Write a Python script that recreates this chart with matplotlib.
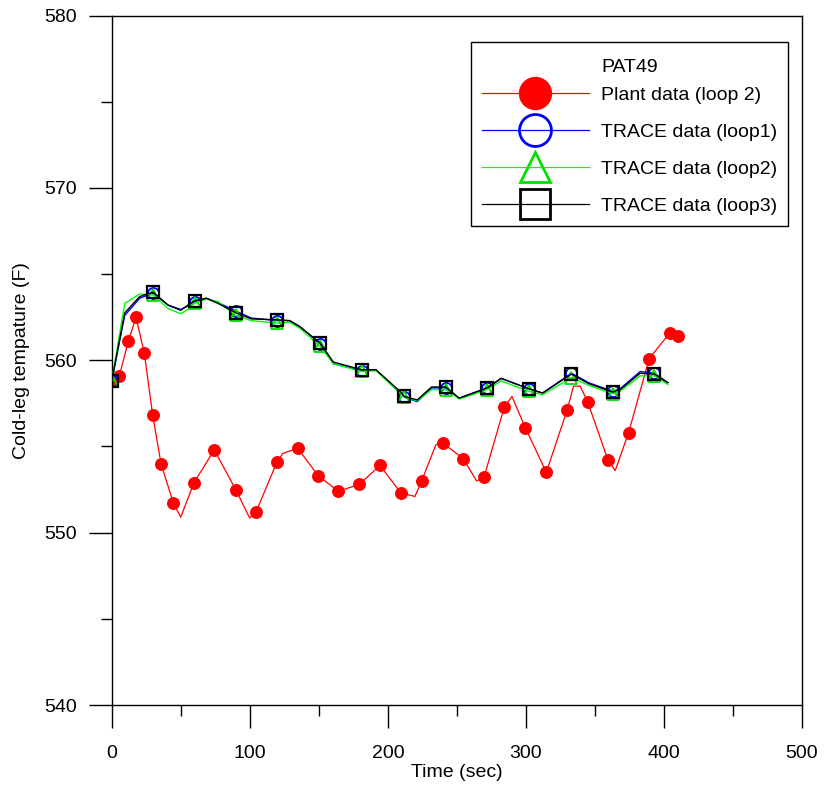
import matplotlib
matplotlib.use('Agg')
import matplotlib.pyplot as plt
from matplotlib.lines import Line2D
from matplotlib.ticker import MultipleLocator

plt.rcParams['font.family'] = ['Liberation Sans', 'DejaVu Sans']

# ---------------- data ----------------
# Plant data (loop 2): line vertices and which of them carry a marker
plant_t = [0, 5.5, 12.0, 17.6, 23.6, 29.7, 35.7, 44.7, 50.0, 59.6, 74.3, 89.8, 99.9,
           104.5, 119.7, 124.0, 134.7, 149.6, 164.1, 179.3, 194.3, 209.5, 219.6, 224.5,
           234.8, 239.7, 254.6, 264.3, 269.6, 284.4, 289.9, 299.5, 314.8, 329.8, 334.5,
           339.3, 344.7, 359.5, 364.7, 374.4, 389.3, 404.4, 410.1]
plant_T = [558.8, 559.1, 561.1, 562.5, 560.4, 556.8, 554.0, 551.7, 550.9, 552.9, 554.8,
           552.5, 550.85, 551.2, 554.1, 554.6, 554.9, 553.3, 552.4, 552.8, 553.9, 552.3,
           552.1, 553.0, 555.1, 555.2, 554.3, 553.0, 553.2, 557.3, 557.9, 556.1, 553.5,
           557.1, 558.5, 558.5, 557.6, 554.2, 553.6, 555.8, 560.1, 561.6, 561.4]
plant_marker_t = [0, 5.5, 12.0, 17.6, 23.6, 29.7, 35.7, 44.7, 59.6, 74.3, 89.8, 104.5,
                  119.7, 134.7, 149.6, 164.1, 179.3, 194.3, 209.5, 224.5, 239.7, 254.6,
                  269.6, 284.4, 299.5, 314.8, 329.8, 344.7, 359.5, 374.4, 389.3, 404.4,
                  410.1]

# TRACE results (common time base)
trace_t = [0, 9.4, 20.3, 30, 40.8, 50.0, 55.2, 60, 68.5, 77.0, 90, 101.1, 120, 128.9,
           136.3, 151, 160.5, 181, 191.4, 208.8, 212, 221.3, 231.7, 242, 251.7, 272,
           282.1, 302, 312.1, 333, 345.4, 363, 368.3, 382.8, 393, 402.8]
trace_marker_t = [0, 30, 60, 90, 120, 151, 181, 212, 242, 272, 302, 333, 363, 393]

loop1_T = [558.8, 562.6, 563.6, 563.9, 563.2, 562.95, 563.15, 563.4, 563.6, 563.35,
           562.85, 562.45, 562.3, 562.3, 561.95, 560.95, 559.8, 559.4, 559.45, 558.1,
           557.85, 557.6, 558.4, 558.4, 557.8, 558.4, 558.95, 558.35, 558.1, 559.25,
           558.7, 558.2, 558.35, 559.35, 559.25, 558.7]
loop2_T = [558.8, 563.3, 563.85, 563.8, 563.0, 562.7, 562.95, 563.3, 563.55, 563.4,
           562.6, 562.3, 562.15, 562.2, 561.85, 560.8, 559.8, 559.35, 559.4, 558.1,
           557.85, 557.65, 558.3, 558.3, 557.75, 558.3, 558.8, 558.2, 558.0, 559.0,
           558.55, 558.05, 558.2, 559.1, 559.1, 558.6]
loop3_T = [558.8, 562.75, 563.7, 563.95, 563.2, 562.9, 563.2, 563.45, 563.6, 563.3,
           562.75, 562.4, 562.35, 562.3, 561.95, 561.0, 559.9, 559.45, 559.45, 558.2,
           557.9, 557.7, 558.45, 558.45, 557.8, 558.4, 558.95, 558.35, 558.1, 559.2,
           558.65, 558.15, 558.3, 559.25, 559.2, 558.7]

legend_title = 'PAT49'
labels = ['Plant data (loop 2)', 'TRACE data (loop1)', 'TRACE data (loop2)', 'TRACE data (loop3)']

# ---------------- plot ----------------
fig = plt.figure(figsize=(8.24, 7.92), dpi=100)
ax = fig.add_axes([0.1356, 0.1098, 0.8377, 0.8706])

plant_idx = [i for i, t in enumerate(plant_t) if t in plant_marker_t]
trace_idx = [i for i, t in enumerate(trace_t) if t in trace_marker_t]

ax.plot(plant_t, plant_T, color='#ff0000', lw=0.9, marker='o', markersize=8.3,
        markerfacecolor='#ff0000', markeredgecolor='#ff0000', markevery=plant_idx, zorder=2)
ax.plot(trace_t, loop1_T, color='#0000ff', lw=1.0, marker='o', markersize=8,
        markerfacecolor='none', markeredgecolor='#0000ff', markeredgewidth=1.3,
        markevery=trace_idx, zorder=3)
ax.plot(trace_t, loop2_T, color='#00ff00', lw=1.0, marker='^', markersize=8,
        markerfacecolor='none', markeredgecolor='#00e000', markeredgewidth=1.3,
        markevery=trace_idx, zorder=4)
ax.plot(trace_t, loop3_T, color='black', lw=1.0, marker='s', markersize=8,
        markerfacecolor='none', markeredgecolor='black', markeredgewidth=1.6,
        markevery=trace_idx, zorder=5)

ax.set_xlim(0, 500)
ax.set_ylim(540, 580)
ax.xaxis.set_major_locator(MultipleLocator(100))
ax.xaxis.set_minor_locator(MultipleLocator(50))
ax.yaxis.set_major_locator(MultipleLocator(10))
ax.yaxis.set_minor_locator(MultipleLocator(5))
ax.tick_params(which='major', direction='out', length=16.5, width=1, labelsize=14)
ax.tick_params(which='minor', direction='out', length=8, width=1)
ax.tick_params(axis='x', which='major', pad=12)
ax.tick_params(axis='y', which='major', pad=8.5)
for s in ax.spines.values():
    s.set_linewidth(1.0)

ax.set_xlabel('Time (sec)', fontsize=14, labelpad=2)
ax.set_ylabel('Cold-leg tempature (F)', fontsize=14, labelpad=10)

handles = [
    Line2D([], [], color='#ff0000', lw=0.9, marker='o', markersize=23,
           markerfacecolor='#ff0000', markeredgecolor='#ff0000'),
    Line2D([], [], color='#0000ff', lw=0.9, marker='o', markersize=23,
           markerfacecolor='none', markeredgecolor='#0000ff', markeredgewidth=2),
    Line2D([], [], color='#00ff00', lw=0.9, marker='^', markersize=22,
           markerfacecolor='none', markeredgecolor='#00e000', markeredgewidth=2),
    Line2D([], [], color='black', lw=0.9, marker='s', markersize=22,
           markerfacecolor='none', markeredgecolor='black', markeredgewidth=2),
]
leg = ax.legend(handles, labels, title=legend_title, loc='upper left',
                bbox_to_anchor=(0.5205, 0.9616), borderaxespad=0, fontsize=14,
                title_fontsize=14, frameon=True, fancybox=False, shadow=False,
                framealpha=1, edgecolor='black', handlelength=5.5, handletextpad=0.62,
                borderpad=0.55, labelspacing=1.0, numpoints=1)
leg.get_frame().set_linewidth(1.0)
leg._legend_box.sep = 12
leg.get_title().set_position((0, -6))

fig.savefig('out.png', dpi=100)
